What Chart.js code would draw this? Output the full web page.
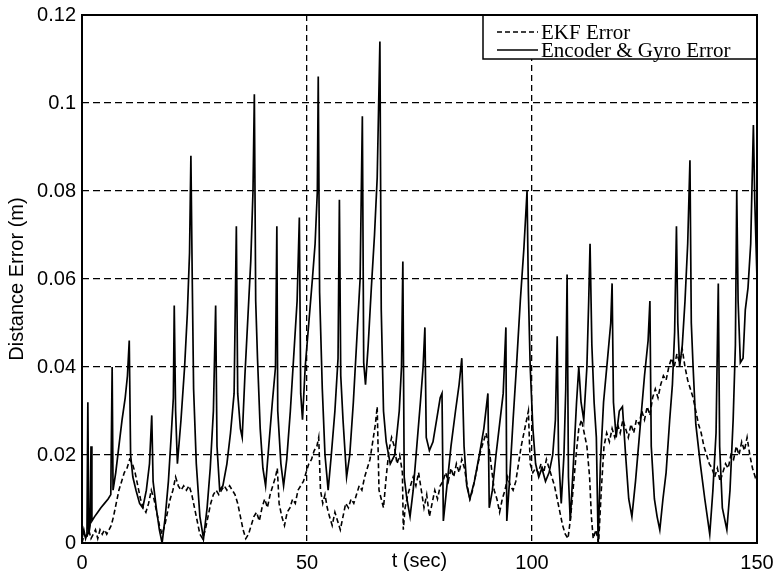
<!DOCTYPE html>
<html>
<head>
<meta charset="utf-8">
<title>Distance Error</title>
<script src="https://cdn.jsdelivr.net/npm/chart.js@4.4.0/dist/chart.umd.min.js"></script>
<style>
  html, body { margin: 0; padding: 0; background: #fff; }
  #wrap { width: 773px; height: 576px; position: relative; }
</style>
</head>
<body>
<div id="wrap"><canvas id="errChart"></canvas></div>
<script>
// Axis ticks
const xTicks = [0, 50, 100, 150];
const yTicks = [0, 0.02, 0.04, 0.06, 0.08, 0.1, 0.12];

// Encoder & Gyro error (solid)
const encTime = [
  0, 0.4, 0.8, 1.1, 1.3, 1.5, 1.8, 2.0, 2.2, 2.8,
  3.5, 4.2, 5.0, 5.8, 6.4, 6.7, 6.9, 7.5, 8.2, 8.9,
  9.6, 10.1, 10.5, 10.8, 11.3, 12.0, 12.8, 13.5, 14.3, 15.0,
  15.5, 15.8, 16.5, 17.2, 17.8, 18.5, 19.2, 19.8, 20.3, 20.5,
  20.8, 21.2, 22.0, 22.8, 23.4, 23.9, 24.2, 24.5, 24.8, 25.4,
  26.2, 27.0, 27.8, 28.5, 29.2, 29.7, 30.0, 30.6, 31.3, 32.2,
  33.0, 33.8, 34.3, 34.6, 35.2, 35.6, 36.2, 36.9, 37.5, 38.0,
  38.3, 38.6, 39.0, 39.6, 40.2, 40.8, 41.5, 42.3, 43.0, 43.3,
  43.5, 44.2, 44.8, 45.5, 46.3, 47.2, 47.8, 48.3, 48.6, 49.0,
  49.6, 50.4, 51.2, 51.8, 52.3, 52.5, 52.8, 53.4, 54.0, 54.7,
  55.4, 56.2, 56.9, 57.2, 57.5, 58.0, 58.8, 59.5, 60.3, 61.0,
  61.8, 62.3, 62.6, 63.0, 63.6, 64.3, 65.0, 65.6, 66.2, 66.5,
  67.0, 67.6, 68.5, 69.5, 70.5, 71.0, 71.3, 71.6, 72.2, 72.9,
  73.6, 74.4, 75.2, 75.8, 76.2, 76.5, 77.2, 78.0, 78.8, 79.6,
  80.0, 80.3, 81.0, 82.0, 83.0, 83.8, 84.4, 84.9, 85.5, 86.2,
  87.2, 88.3, 89.3, 90.2, 90.5, 91.2, 92.0, 92.8, 93.6, 94.2,
  94.4, 95.0, 95.8, 96.6, 97.4, 98.2, 98.9, 99.2, 99.6, 100.2,
  100.8, 101.5, 102.2, 103.0, 103.8, 104.6, 105.2, 105.6, 105.9, 106.5,
  107.1, 107.5, 107.8, 108.1, 108.5, 109.2, 109.9, 110.4, 110.9, 111.5,
  112.2, 112.6, 112.9, 113.3, 113.8, 114.3, 114.7, 115.2, 115.9, 116.8,
  117.5, 117.8, 118.1, 118.7, 119.4, 120.1, 120.8, 121.5, 122.2, 123.0,
  124.0, 125.0, 125.8, 126.2, 126.5, 127.2, 127.8, 128.4, 129.1, 129.8,
  130.6, 131.2, 131.7, 132.1, 132.4, 132.8, 133.4, 134.0, 134.6, 135.1,
  135.4, 135.8, 136.4, 137.4, 138.4, 139.5, 140.2, 140.9, 141.4, 141.7,
  142.3, 143.3, 144.0, 144.7, 145.2, 145.5, 145.8, 146.3, 146.9, 147.4,
  148.0, 148.6, 149.2, 149.5, 150.0
];
const encError = [
  0.001, 0.003, 0.001, 0.002, 0.032, 0.002, 0.004, 0.022, 0.005, 0.006,
  0.007, 0.008, 0.009, 0.010, 0.011, 0.040, 0.012, 0.016, 0.022, 0.028,
  0.033, 0.038, 0.046, 0.020, 0.015, 0.012, 0.009, 0.008, 0.012, 0.018,
  0.029, 0.014, 0.008, 0.003, 0.000, 0.006, 0.014, 0.024, 0.033, 0.054,
  0.030, 0.018, 0.028, 0.040, 0.052, 0.066, 0.088, 0.060, 0.035, 0.018,
  0.006, 0.001, 0.008, 0.017, 0.030, 0.054, 0.022, 0.012, 0.013, 0.018,
  0.025, 0.034, 0.072, 0.034, 0.026, 0.024, 0.038, 0.052, 0.064, 0.080,
  0.102, 0.055, 0.042, 0.026, 0.017, 0.013, 0.022, 0.032, 0.040, 0.072,
  0.030, 0.018, 0.013, 0.019, 0.030, 0.045, 0.055, 0.074, 0.034, 0.028,
  0.040, 0.050, 0.060, 0.068, 0.080, 0.106, 0.057, 0.035, 0.020, 0.012,
  0.020, 0.030, 0.042, 0.078, 0.038, 0.028, 0.015, 0.020, 0.032, 0.045,
  0.060, 0.097, 0.041, 0.036, 0.045, 0.058, 0.070, 0.083, 0.114, 0.053,
  0.030, 0.023, 0.018, 0.020, 0.030, 0.040, 0.064, 0.015, 0.010, 0.006,
  0.012, 0.022, 0.032, 0.040, 0.049, 0.024, 0.021, 0.023, 0.028, 0.033,
  0.034, 0.005, 0.012, 0.022, 0.030, 0.036, 0.042, 0.022, 0.013, 0.010,
  0.014, 0.020, 0.026, 0.034, 0.008, 0.012, 0.020, 0.027, 0.034, 0.049,
  0.005, 0.014, 0.028, 0.041, 0.055, 0.067, 0.080, 0.057, 0.040, 0.026,
  0.018, 0.015, 0.017, 0.014, 0.016, 0.020, 0.028, 0.047, 0.020, 0.009,
  0.020, 0.035, 0.061, 0.015, 0.005, 0.018, 0.032, 0.040, 0.032, 0.028,
  0.040, 0.055, 0.068, 0.045, 0.032, 0.024, 0.000, 0.018, 0.032, 0.042,
  0.050, 0.059, 0.032, 0.024, 0.030, 0.031, 0.020, 0.010, 0.006, 0.014,
  0.026, 0.038, 0.046, 0.055, 0.022, 0.010, 0.006, 0.003, 0.010, 0.016,
  0.028, 0.036, 0.048, 0.072, 0.050, 0.040, 0.045, 0.055, 0.068, 0.087,
  0.050, 0.040, 0.027, 0.018, 0.010, 0.002, 0.012, 0.025, 0.059, 0.022,
  0.008, 0.003, 0.012, 0.028, 0.045, 0.080, 0.055, 0.041, 0.042, 0.053,
  0.058, 0.068, 0.095, 0.078, 0.060
];

// EKF error (dashed)
const ekfTime = [
  0, 0.5, 1.0, 1.5, 2.0, 2.5, 3.0, 3.5, 4.0, 4.5,
  5.0, 5.5, 6.0, 6.5, 7.0, 7.6, 8.2, 8.8, 9.4, 10.0,
  10.6, 11.2, 11.8, 12.4, 13.0, 13.6, 14.2, 14.8, 15.4, 16.0,
  16.6, 17.2, 17.8, 18.4, 19.0, 19.6, 20.2, 20.8, 21.4, 22.0,
  22.6, 23.2, 23.8, 24.4, 25.0, 25.6, 26.2, 26.8, 27.4, 28.0,
  28.6, 29.2, 29.8, 30.4, 31.0, 31.6, 32.2, 32.8, 33.4, 34.0,
  34.6, 35.2, 35.8, 36.4, 37.0, 37.6, 38.2, 38.8, 39.4, 40.0,
  40.6, 41.2, 41.8, 42.4, 43.0, 43.4, 43.8, 44.4, 45.0, 45.6,
  46.2, 46.8, 47.4, 48.0, 48.6, 49.2, 49.8, 50.4, 51.0, 51.6,
  52.2, 52.6, 53.0, 53.5, 54.0, 54.5, 55.0, 55.6, 56.2, 56.8,
  57.4, 58.0, 58.6, 59.2, 59.8, 60.4, 61.0, 61.6, 62.2, 62.8,
  63.4, 64.0, 64.6, 65.2, 65.6, 66.0, 66.5, 67.0, 67.6, 68.2,
  68.8, 69.4, 70.0, 70.6, 71.2, 71.4, 71.8, 72.4, 73.0, 73.6,
  74.2, 74.8, 75.4, 76.0, 76.6, 77.2, 77.8, 78.4, 79.0, 79.6,
  80.2, 80.8, 81.4, 82.0, 82.6, 83.2, 83.8, 84.4, 85.0, 85.6,
  86.2, 86.8, 87.4, 88.0, 88.6, 89.2, 89.8, 90.4, 91.0, 91.6,
  92.2, 92.8, 93.4, 94.0, 94.6, 95.2, 95.8, 96.4, 97.0, 97.6,
  98.2, 98.8, 99.2, 99.6, 100.2, 100.8, 101.4, 102.0, 102.6, 103.2,
  103.8, 104.4, 105.0, 105.6, 106.2, 106.8, 107.4, 108.0, 108.6, 109.2,
  109.8, 110.4, 111.0, 111.6, 112.2, 112.8, 113.2, 113.6, 114.2, 114.8,
  115.4, 116.0, 116.6, 117.2, 117.8, 118.4, 119.0, 119.6, 120.2, 120.8,
  121.4, 122.0, 122.6, 123.2, 123.8, 124.4, 125.0, 125.6, 126.2, 126.8,
  127.4, 128.0, 128.6, 129.2, 129.8, 130.4, 131.0, 131.6, 132.2, 132.8,
  133.4, 134.0, 134.6, 135.2, 135.8, 136.4, 137.0, 137.6, 138.2, 138.8,
  139.4, 140.0, 140.6, 141.2, 141.8, 142.4, 143.0, 143.6, 144.2, 144.8,
  145.4, 146.0, 146.6, 147.2, 147.8, 148.4, 149.0, 149.6, 150.0
];
const ekfError = [
  0.000, 0.002, 0.001, 0.003, 0.001, 0.002, 0.003, 0.001, 0.003, 0.002,
  0.003, 0.002, 0.003, 0.004, 0.006, 0.009, 0.012, 0.014, 0.016, 0.017,
  0.019, 0.018, 0.016, 0.013, 0.010, 0.008, 0.007, 0.009, 0.012, 0.010,
  0.007, 0.004, 0.002, 0.004, 0.007, 0.010, 0.012, 0.015, 0.013, 0.012,
  0.013, 0.012, 0.013, 0.011, 0.008, 0.005, 0.002, 0.001, 0.003, 0.006,
  0.009, 0.011, 0.012, 0.011, 0.012, 0.013, 0.012, 0.013, 0.012, 0.011,
  0.009, 0.006, 0.003, 0.001, 0.002, 0.004, 0.006, 0.007, 0.005, 0.008,
  0.010, 0.008, 0.011, 0.013, 0.015, 0.017, 0.009, 0.006, 0.004, 0.007,
  0.008, 0.010, 0.009, 0.012, 0.013, 0.014, 0.016, 0.018, 0.019, 0.021,
  0.022, 0.024, 0.012, 0.009, 0.011, 0.008, 0.006, 0.004, 0.007, 0.005,
  0.003, 0.006, 0.009, 0.008, 0.010, 0.009, 0.011, 0.013, 0.012, 0.015,
  0.017, 0.019, 0.023, 0.027, 0.031, 0.012, 0.010, 0.008, 0.015, 0.021,
  0.024, 0.022, 0.018, 0.020, 0.016, 0.003, 0.008, 0.011, 0.013, 0.015,
  0.013, 0.016, 0.012, 0.008, 0.011, 0.006, 0.009, 0.012, 0.010, 0.013,
  0.014, 0.016, 0.014, 0.017, 0.015, 0.018, 0.016, 0.019, 0.017, 0.013,
  0.010, 0.012, 0.015, 0.018, 0.021, 0.023, 0.025, 0.022, 0.017, 0.012,
  0.010, 0.007, 0.010, 0.012, 0.015, 0.013, 0.012, 0.014, 0.018, 0.022,
  0.025, 0.028, 0.030, 0.018, 0.016, 0.017, 0.016, 0.018, 0.016, 0.019,
  0.017, 0.015, 0.013, 0.010, 0.007, 0.004, 0.002, 0.001, 0.006, 0.013,
  0.020, 0.026, 0.028, 0.025, 0.022, 0.015, 0.006, 0.001, 0.003, 0.000,
  0.012, 0.022, 0.025, 0.023, 0.026, 0.024, 0.027, 0.025, 0.028, 0.026,
  0.024, 0.027, 0.025, 0.028, 0.027, 0.030, 0.028, 0.031, 0.029, 0.033,
  0.035, 0.033, 0.036, 0.038, 0.037, 0.040, 0.042, 0.040, 0.043, 0.041,
  0.044, 0.040, 0.037, 0.035, 0.033, 0.030, 0.027, 0.025, 0.022, 0.020,
  0.018, 0.017, 0.015, 0.017, 0.014, 0.016, 0.018, 0.017, 0.020, 0.019,
  0.022, 0.020, 0.023, 0.021, 0.024, 0.020, 0.017, 0.015, 0.016
];

const sansFont = "'Liberation Sans', Arial, sans-serif";
const serifFont = "'Liberation Serif', 'Times New Roman', serif";

// Solid frame round the plot area
const framePlugin = {
  id: 'frame',
  afterDraw(chart) {
    const { ctx, chartArea: a } = chart;
    ctx.save();
    ctx.strokeStyle = '#000';
    ctx.lineWidth = 2;
    ctx.strokeRect(a.left, a.top, a.right - a.left, a.bottom - a.top);
    ctx.restore();
  }
};

// Boxed legend in the top-right corner, inside the plot
const boxLegend = {
  id: 'boxLegend',
  afterDraw(chart) {
    const { ctx, chartArea: a } = chart;
    const left = a.right - 274;
    const top = a.top;
    const h = 44;
    ctx.save();
    ctx.fillStyle = '#fff';
    ctx.fillRect(left, top, a.right - left, h);
    ctx.strokeStyle = '#000';
    ctx.lineWidth = 1.5;
    ctx.strokeRect(left, top, a.right - left, h);
    ctx.font = '21px ' + serifFont;
    ctx.fillStyle = '#000';
    ctx.textBaseline = 'alphabetic';
    chart.data.datasets.forEach((ds, i) => {
      const lineY = top + 17 + i * 18;
      ctx.beginPath();
      ctx.setLineDash(ds.borderDash || []);
      ctx.lineWidth = 1.5;
      ctx.moveTo(left + 14, lineY);
      ctx.lineTo(left + 55, lineY);
      ctx.stroke();
      ctx.setLineDash([]);
      ctx.fillText(ds.label, left + 58, lineY + 7);
    });
    ctx.restore();
  }
};

const gridColor = (ticks) => (c) =>
  (c.index === 0 || c.index === ticks.length - 1) ? 'rgba(0,0,0,0)' : '#000';

const ctx = document.getElementById('errChart').getContext('2d');
new Chart(ctx, {
  type: 'line',
  data: {
    datasets: [
      {
        label: 'EKF Error',
        data: ekfTime.map((t, i) => ({ x: t, y: ekfError[i] })),
        borderColor: '#000',
        borderWidth: 1.6,
        borderDash: [5, 3],
        pointRadius: 0,
        tension: 0
      },
      {
        label: 'Encoder & Gyro Error',
        data: encTime.map((t, i) => ({ x: t, y: encError[i] })),
        borderColor: '#000',
        borderWidth: 1.7,
        pointRadius: 0,
        tension: 0
      }
    ]
  },
  options: {
    responsive: true,
    maintainAspectRatio: false,
    animation: false,
    layout: { padding: { top: 15, right: 16, bottom: 0, left: 0 } },
    plugins: {
      legend: { display: false },
      tooltip: { enabled: false }
    },
    scales: {
      x: {
        type: 'linear',
        min: 0,
        max: 150,
        afterBuildTicks: s => { s.ticks = xTicks.map(v => ({ value: v })); },
        afterFit: s => { s.height = 33; s.paddingLeft = 0; s.paddingRight = 0; },
        grid: { drawTicks: false, color: gridColor(xTicks), lineWidth: 1.3 },
        border: { display: false, dash: [6, 4] },
        ticks: {
          padding: 8,
          color: '#000',
          maxRotation: 0,
          font: { family: sansFont, size: 20 },
          callback: v => String(v)
        },
        title: {
          display: true,
          text: 't (sec)',
          color: '#000',
          font: { family: sansFont, size: 20 },
          padding: { top: 0, bottom: 3 }
        }
      },
      y: {
        min: 0,
        max: 0.12,
        afterBuildTicks: s => { s.ticks = yTicks.map(v => ({ value: v })); },
        afterFit: s => { s.width = 82; s.paddingTop = 0; s.paddingBottom = 0; },
        grid: { drawTicks: false, color: gridColor(yTicks), lineWidth: 1.3 },
        border: { display: false, dash: [7, 4] },
        ticks: {
          padding: 6,
          color: '#000',
          font: { family: sansFont, size: 20 },
          callback: v => String(v)
        },
        title: {
          display: true,
          text: 'Distance Error (m)',
          color: '#000',
          font: { family: sansFont, size: 20 },
          padding: { top: 5, bottom: 0 }
        }
      }
    }
  },
  plugins: [boxLegend, framePlugin]
});
</script>
</body>
</html>
